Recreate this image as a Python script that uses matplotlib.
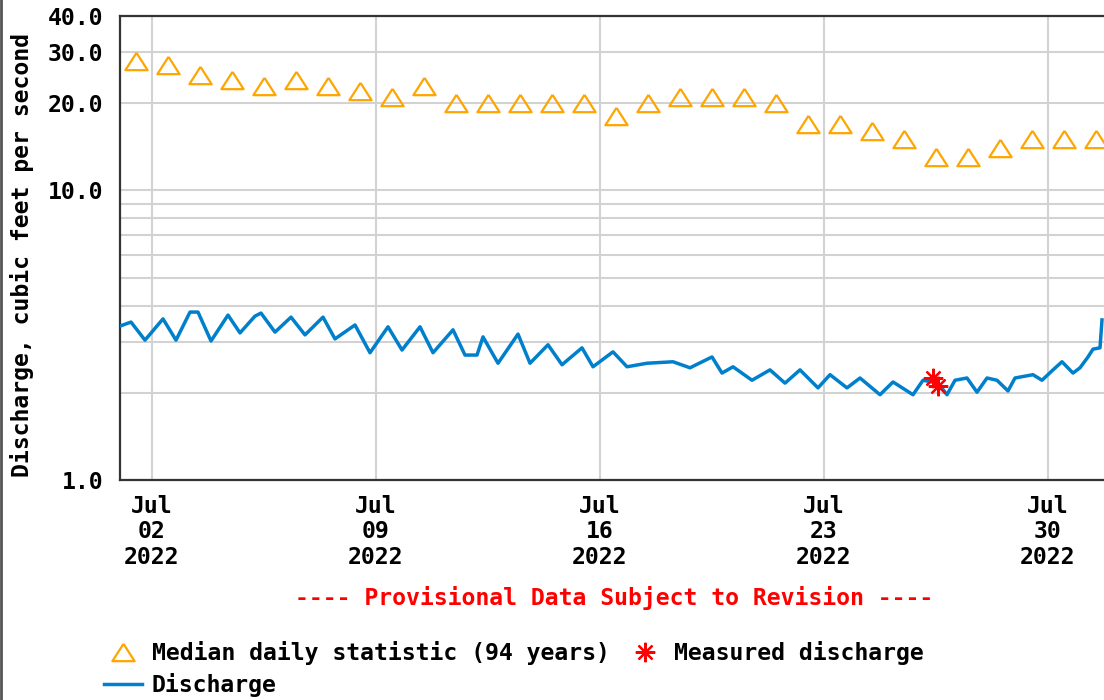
import numpy as np
import pandas as pd
import matplotlib
matplotlib.use("Agg")
import matplotlib.pyplot as plt
from matplotlib.lines import Line2D

# daily median statistic (94 years), one value per day, plotted at noon
median_days = pd.date_range("2022-07-01 12:00", "2022-07-31 12:00", freq="D")
median_cfs = [28, 27, 25, 24, 23, 24, 23, 22, 21, 23,
              20, 20, 20, 20, 20, 18, 20, 21, 21, 21,
              20, 17, 17, 16, 15, 13, 13, 14, 15, 15, 15]

flow_times = [
    "07-01 00:00", "07-01 08:15", "07-01 18:45", "07-02 08:15", "07-02 18:00",
    "07-03 04:30", "07-03 10:30", "07-03 20:15", "07-04 09:00", "07-04 18:00",
    "07-05 05:15", "07-05 09:45", "07-05 20:15", "07-06 08:15", "07-06 18:45",
    "07-07 08:15", "07-07 17:15", "07-08 08:15", "07-08 19:30", "07-09 09:00",
    "07-09 19:30", "07-10 09:00", "07-10 18:45", "07-11 09:45", "07-11 18:45",
    "07-12 03:45", "07-12 08:15", "07-12 19:30", "07-13 10:30", "07-13 19:30",
    "07-14 09:00", "07-14 19:30", "07-15 10:30", "07-15 18:45", "07-16 09:45",
    "07-16 20:15", "07-17 11:15", "07-18 06:45", "07-18 19:30", "07-19 12:00",
    "07-19 19:30", "07-20 03:45", "07-20 18:00", "07-21 07:30", "07-21 18:45",
    "07-22 06:00", "07-22 19:30", "07-23 04:30", "07-23 17:15", "07-24 03:00",
    "07-24 18:00", "07-25 03:45", "07-25 18:45", "07-26 02:15", "07-26 13:30",
    "07-26 20:15", "07-27 02:15", "07-27 11:15", "07-27 18:45", "07-28 02:15",
    "07-28 09:45", "07-28 18:00", "07-28 23:15", "07-29 12:45", "07-29 19:30",
    "07-30 03:45", "07-30 10:30", "07-30 18:45", "07-31 00:00", "07-31 06:00",
    "07-31 09:45", "07-31 15:00", "07-31 16:30",
]
flow_cfs = [
    3.40, 3.51, 3.04, 3.60, 3.04,
    3.80, 3.80, 3.02, 3.71, 3.22,
    3.68, 3.77, 3.24, 3.65, 3.17,
    3.65, 3.07, 3.43, 2.75, 3.38,
    2.81, 3.38, 2.75, 3.30, 2.70,
    2.70, 3.12, 2.53, 3.19, 2.53,
    2.93, 2.50, 2.86, 2.46, 2.77,
    2.46, 2.53, 2.56, 2.44, 2.66,
    2.34, 2.46, 2.21, 2.40, 2.16,
    2.40, 2.08, 2.31, 2.08, 2.25,
    1.97, 2.18, 1.97, 2.21, 2.16,
    1.97, 2.21, 2.25, 2.01, 2.25,
    2.21, 2.03, 2.25, 2.31, 2.21,
    2.40, 2.56, 2.34, 2.44, 2.66,
    2.83, 2.86, 3.57,
]

# field measurements
meas_times = ["07-26 09:45", "07-26 13:30"]
meas_cfs = [2.25, 2.11]

tick_days = ["2022-07-02", "2022-07-09", "2022-07-16", "2022-07-23", "2022-07-30"]
y_ticks = [1, 2, 3, 4, 5, 6, 7, 8, 9, 10, 20, 30, 40]
y_labels = {1: "1.0", 10: "10.0", 20: "20.0", 30: "30.0", 40: "40.0"}

flow_t = pd.to_datetime(["2022-" + s for s in flow_times])
meas_t = pd.to_datetime(["2022-" + s for s in meas_times])
ticks = pd.to_datetime(tick_days)

font = "DejaVu Sans Mono"
fs = 16.65
plt.rcParams["font.family"] = font
plt.rcParams["font.weight"] = "bold"

fig = plt.figure(figsize=(11.04, 7.0), dpi=100)
ax = fig.add_axes([120 / 1104, 220 / 700, 984 / 1104, 464 / 700])

ax.plot(flow_t, flow_cfs, color="#0080cc", lw=2.5, label="Discharge", zorder=3)
ax.plot(median_days, median_cfs, ls="none",
        marker=[(0, 0.78), (-1, -0.78), (1, -0.78), (0, 0.78)],
        ms=16, mfc="none", mec="#ffa500", mew=1.6,
        label="Median daily statistic (94 years)", zorder=4)
ax.plot(meas_t, meas_cfs, ls="none", marker=(8, 2, 0), ms=14, mec="red",
        mew=1.6, label="Measured discharge", zorder=5)

ax.set_yscale("log")
ax.set_ylim(1, 40)
ax.set_xlim(pd.Timestamp("2022-07-01 00:00"), pd.Timestamp("2022-07-31 18:00"))
ax.set_yticks(y_ticks)
ax.set_yticklabels([y_labels.get(v, "") for v in y_ticks])
ax.yaxis.set_minor_locator(matplotlib.ticker.NullLocator())
ax.set_xticks(ticks)
ax.set_xticklabels([d.strftime("%b\n%d\n%Y") for d in ticks], linespacing=1.12)
ax.tick_params(axis="both", length=0, labelsize=fs)
ax.tick_params(axis="y", pad=12)
ax.tick_params(axis="x", pad=11)
ax.grid(True, color="#d2d2d2", lw=1.5)
ax.set_axisbelow(True)
for side in ["left", "top", "bottom"]:
    ax.spines[side].set_color("#333333")
    ax.spines[side].set_linewidth(1.6)
ax.spines["right"].set_visible(False)

fig.text(22 / 1104, 1 - 255 / 700, "Discharge, cubic feet per second",
         rotation=90, ha="center", va="center", fontsize=fs)
fig.text(614 / 1104, 1 - 598 / 700, "---- Provisional Data Subject to Revision ----",
         color="red", ha="center", va="center", fontsize=fs)

h, l = ax.get_legend_handles_labels()
order = [1, 0, 2]
fig.legend([h[i] for i in order], [l[i] for i in order], ncol=2,
           loc="upper left", bbox_to_anchor=(104 / 1104, 1 - 641 / 700),
           frameon=False, fontsize=fs, borderpad=0, borderaxespad=0,
           handlelength=1.65, handletextpad=0.42, columnspacing=0.72,
           labelspacing=0.35)

fig.add_artist(Line2D([0.0012, 0.0012], [0, 1], color="#555555", lw=2))

fig.savefig("out.png", dpi=100)
